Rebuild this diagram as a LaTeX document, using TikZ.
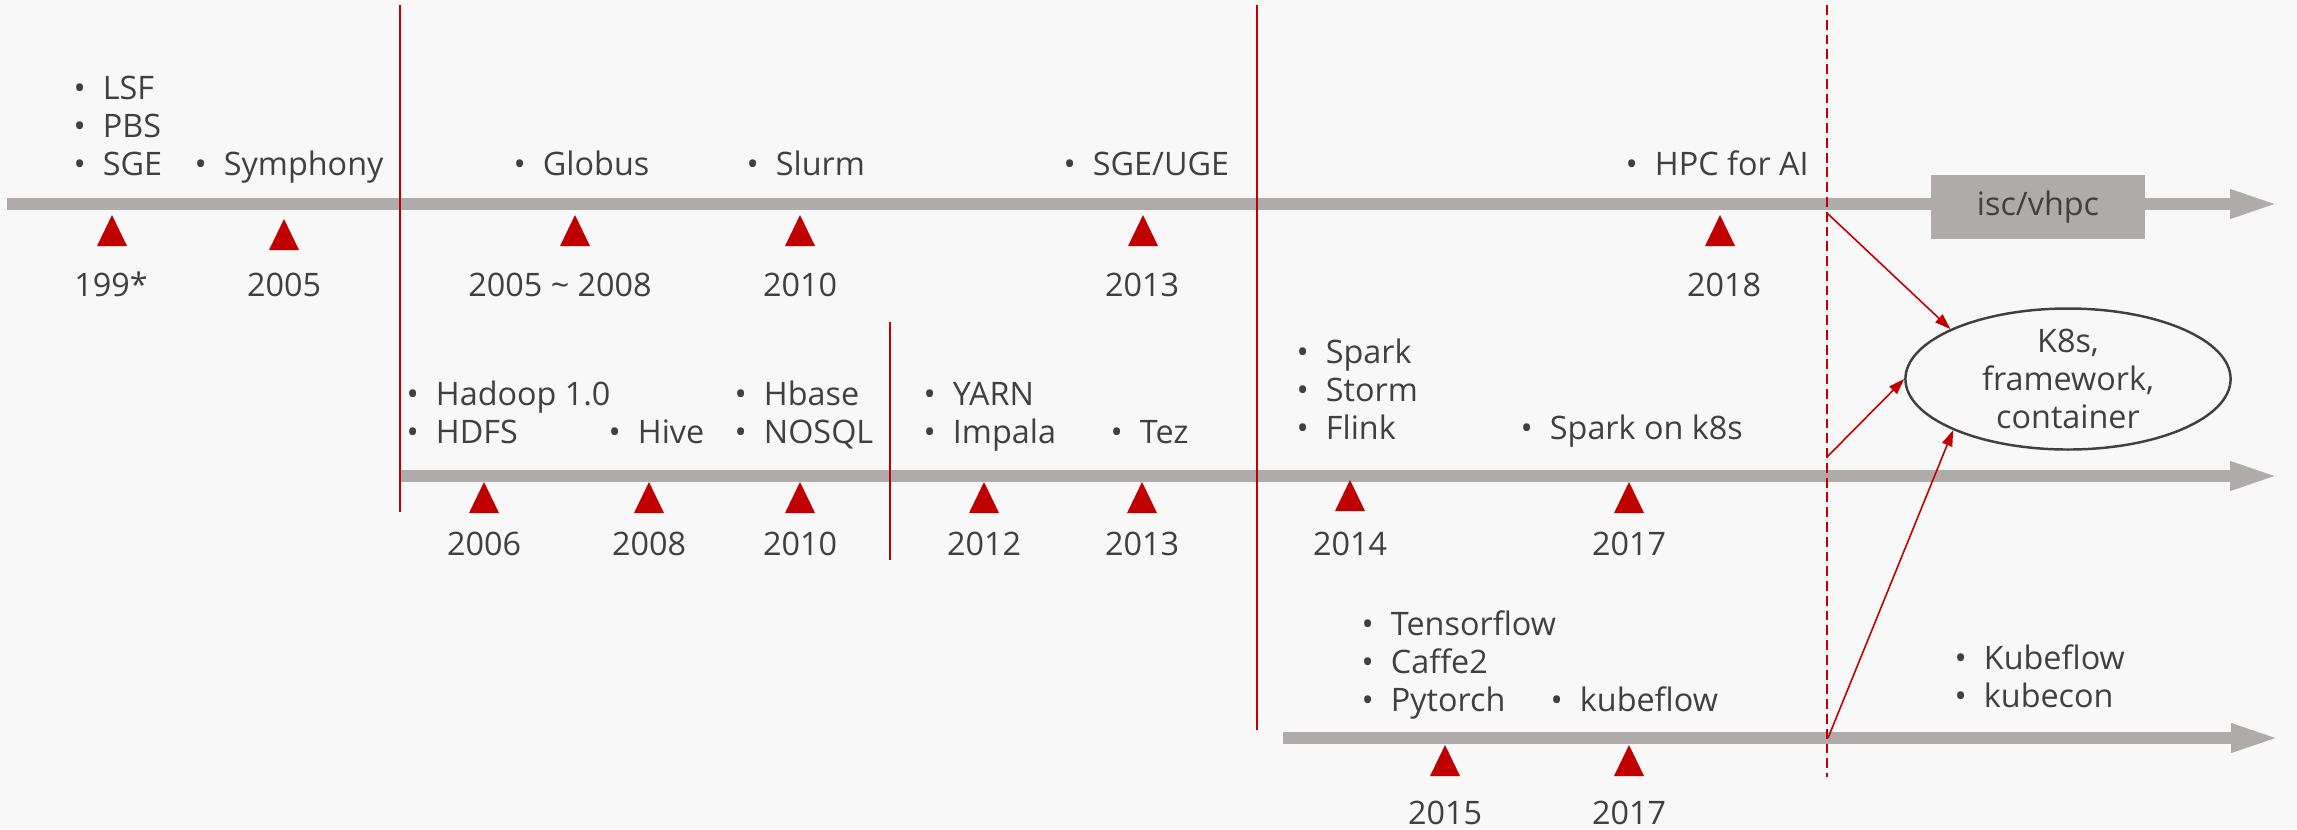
\documentclass[tikz,border=0pt]{standalone}
\usepackage{fontspec}
\setmainfont{Open Sans}
\usetikzlibrary{arrows.meta,shapes.geometric}

\definecolor{bg}{RGB}{248,248,248}
\definecolor{bargray}{RGB}{175,171,171}
\definecolor{mred}{RGB}{192,0,0}
\definecolor{txtgray}{RGB}{64,64,64}
\newcommand{\itm}{\makebox[8.3pt][l]{\textbullet}}

\begin{document}
\begin{tikzpicture}[x=0.01cm,y=-0.01cm,
    every node/.style={text=txtgray,inner sep=0pt,font=\fontsize{9.2pt}{10.8pt}\selectfont},
    bar/.style={draw=bargray,line width=3.6pt,-{Triangle[length=14.5pt,width=7.2pt]}},
    redline/.style={draw=mred,line width=0.6pt},
    link/.style={draw=mred,line width=0.45pt,-{Triangle[length=4.5pt,width=3pt]}},
    item/.style={anchor=base west,align=left},
    year/.style={anchor=base}]
  \useasboundingbox[fill=bg] (0,0) rectangle (2297,829);

  % three timelines
  \draw[bar] (7,204) -- (2281,204);
  \draw[bar] (400,476) -- (2281,476);
  \draw[bar] (1283,738) -- (2282,738);

  % period borders
  \draw[redline] (400,5) -- (400,512);
  \draw[redline] (890,322) -- (890,560);
  \draw[redline] (1257,5) -- (1257,730);
  \draw[redline,dash pattern=on 2.8pt off 1.4pt] (1827,5) -- (1827,777);

  % markers
  \foreach \x/\y in {112/215,284/219,575/215,800/215,1143/215,1720/215,
                     484/482,649/482,800/482,984/482,1142/482,1350/480,1629/482,
                     1445/745,1629/745}
    \fill[mred] (\x-15,\y+31) -- (\x,\y) -- (\x+15,\y+31) -- cycle;

  % years
  \foreach \x/\t [count=\i] in {111/199*,284/2005,560/2005 \textasciitilde{} 2008,
                                800/2010,1142/2013,1724/2018}
    \node[year] (hpc\i) at (\x,296) {\t};
  \foreach \x/\t [count=\i] in {484/2006,649/2008,800/2010,984/2012,1142/2013,
                                1350/2014,1629/2017}
    \node[year] (big\i) at (\x,555) {\t};
  \foreach \x/\t [count=\i] in {1445/2015,1629/2017}
    \node[year] (ai\i) at (\x,824) {\t};

  % HPC line (base = last line)
  \node[item] (lsf) at (73,175) {\itm LSF\\\itm PBS\\\itm SGE};
  \node[item] (symphony) at (194,175) {\itm Symphony};
  \node[item] (globus) at (513,175) {\itm Globus};
  \node[item] (slurm) at (746,175) {\itm Slurm};
  \node[item] (uge) at (1063,175) {\itm SGE/UGE};
  \node[item] (hpcai) at (1625,175) {\itm HPC for AI};
  \node[fill=bargray,minimum width=2.14cm,minimum height=0.63cm] (isc) at (2038,207) {isc/vhpc};

  % big data line
  \node[item] (hadoop) at (406,443) {\itm Hadoop 1.0\\\itm HDFS};
  \node[item] (hive) at (608,443) {\itm Hive};
  \node[item] (hbase) at (734,443) {\itm Hbase\\\itm NOSQL};
  \node[item] (yarn) at (923,443) {\itm YARN\\\itm Impala};
  \node[item] (tez) at (1110,443) {\itm Tez};
  \node[item] (spark) at (1296,439) {\itm Spark\\\itm Storm\\\itm Flink};
  \node[item] (sparkk8s) at (1520,439) {\itm Spark on k8s};

  % AI line
  \node[item] (tf) at (1361,711) {\itm Tensorflow\\\itm Caffe2\\\itm Pytorch};
  \node[item] (kf) at (1550,711) {\itm kubeflow};
  \node[item] (kubecon) at (1954,707) {\itm Kubeflow\\\itm kubecon};

  % merge
  \node[ellipse,draw=txtgray,line width=0.7pt,minimum width=3.25cm,minimum height=1.37cm,
        align=center] (k8s) at (2068,379) {K8s,\\framework,\\container};
  \coordinate (hpcend) at (1827,213);
  \coordinate (bigend) at (1827,457);
  \coordinate (aiend) at (1828,738);
  \draw[link] (hpcend) -- (k8s.157);
  \draw[link] (bigend) -- (k8s.west);
  \draw[link] (aiend) -- (k8s.204);
\end{tikzpicture}
\end{document}
